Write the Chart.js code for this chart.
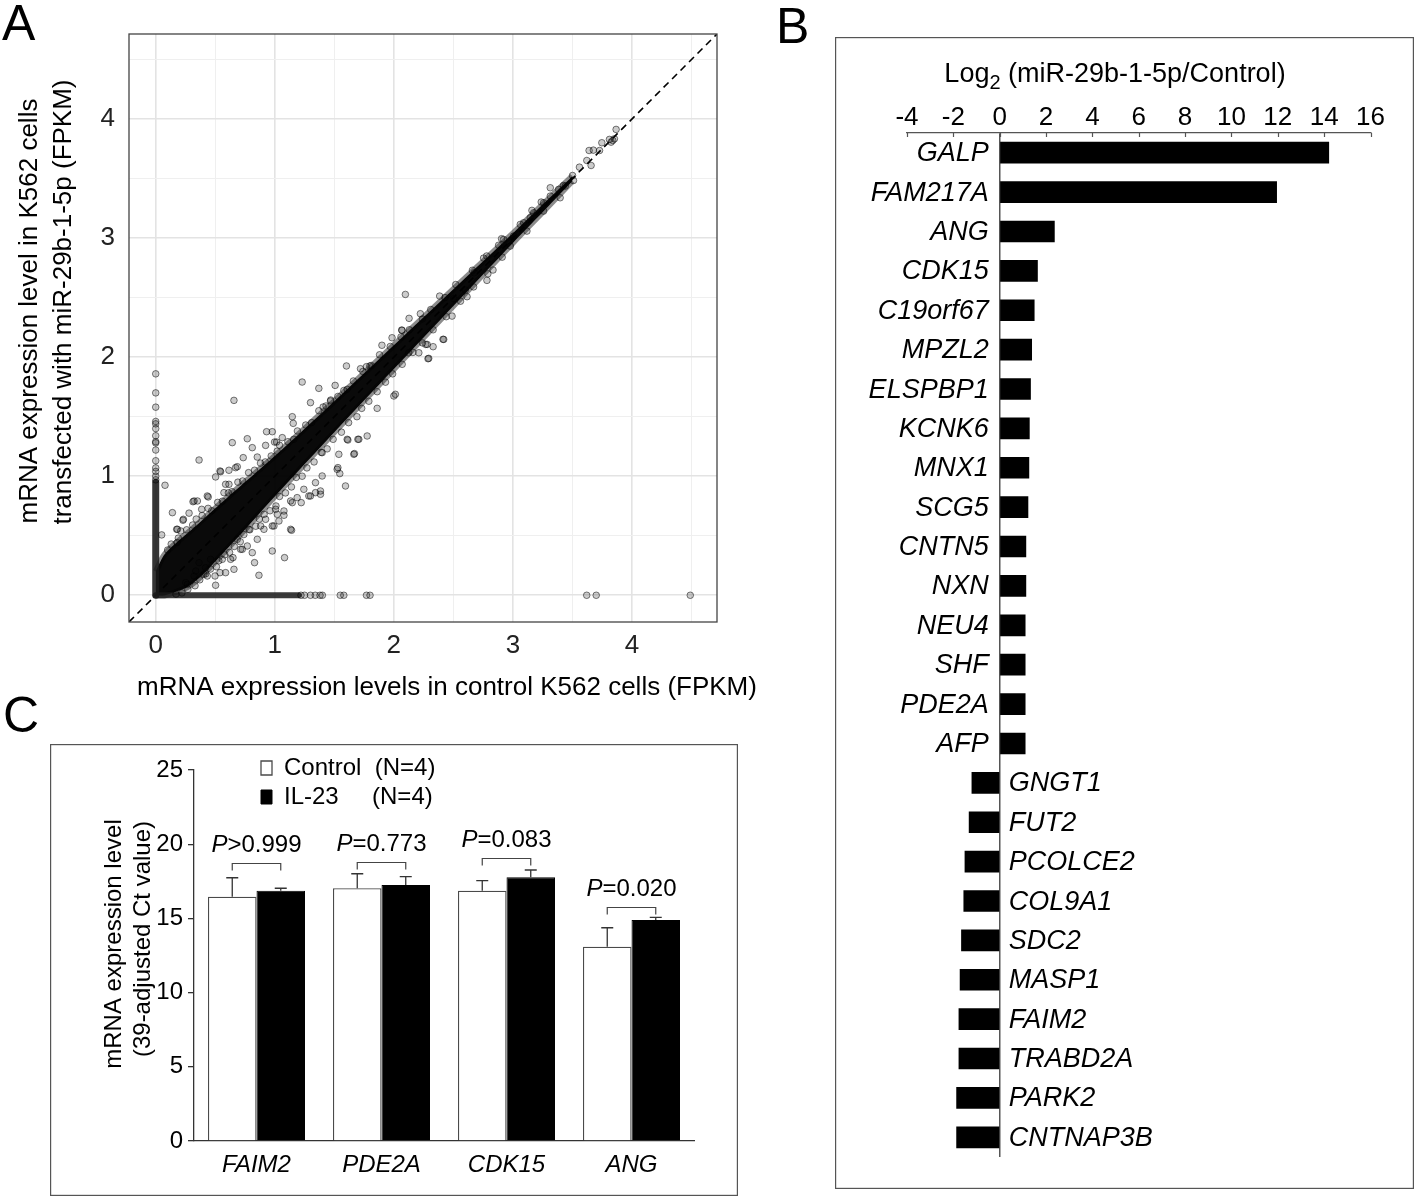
<!DOCTYPE html>
<html><head><meta charset="utf-8">
<script src="https://cdn.jsdelivr.net/npm/chart.js@4.4.1/dist/chart.umd.min.js"></script>
<style>
html,body{margin:0;padding:0;background:#fff;}
body{width:1418px;height:1197px;position:relative;overflow:hidden;font-family:"Liberation Sans",Arial,sans-serif;}
.wrap{position:absolute;}
.letter{position:absolute;font-size:50px;line-height:50px;color:#000;z-index:5;}
</style></head><body>
<div class="wrap" style="left:0;top:0;width:760px;height:720px"><canvas id="cA"></canvas></div>
<div class="wrap" style="left:835px;top:37px;width:579px;height:1152px"><canvas id="cB"></canvas></div>
<div class="wrap" style="left:50px;top:744px;width:688px;height:452px"><canvas id="cC"></canvas></div>
<div class="letter" style="left:2px;top:-2px">A</div>
<div class="letter" style="left:776px;top:1px">B</div>
<div class="letter" style="left:3px;top:690px">C</div>
<script>
// ---------------- Panel A data (FPKM, as plotted) ----------------
const gridTicksA = [0, 0.5, 1, 1.5, 2, 2.5, 3, 3.5, 4, 4.5];
// dense diagonal band (envelope of the solid black cloud)
const bandX     = [0,    0.08, 0.3,  0.6,  1.0,  1.5,  2.0,  2.5,  3.0,  3.3,  3.5];
const bandUpper = [0.20, 0.35, 0.55, 0.82, 1.17, 1.63, 2.10, 2.57, 3.04, 3.33, 3.52];
const bandLower = [0.0,  0.0,  0.09, 0.39, 0.83, 1.37, 1.90, 2.43, 2.96, 3.27, 3.48];
// genes with zero expression in one condition
const zeroCtrlRange  = [0, 0.95];
const zeroTreatRange = [0, 1.2];
const zeroCtrlY  = [0.97, 1.0, 1.04, 1.07, 1.13, 1.22, 1.28, 1.29, 1.34, 1.40, 1.44, 1.46, 1.58, 1.70, 1.86];
const zeroTreatX = [1.22, 1.25, 1.3, 1.34, 1.38, 1.40, 1.55, 1.58, 1.77, 1.80, 3.62, 3.70, 4.49];
// points at the edge of the dense band
const fringePoints = [
 [0.1,0.38],[0.13,0.43],[0.19,0.48],[0.21,0.54],[0.26,0.55],[0.31,0.59],[0.34,0.64],[0.39,0.67],[0.44,0.73],[0.47,0.71],
 [0.52,0.78],[0.56,0.79],[0.61,0.86],[0.64,0.87],[0.69,0.95],[0.73,0.96],[0.78,1.03],[0.83,1.05],[0.88,1.11],[0.92,1.12],
 [0.97,1.17],[1.02,1.21],[1.04,1.26],[1.11,1.29],[1.16,1.31],[1.19,1.38],[1.26,1.43],[1.31,1.45],[1.37,1.55],[1.43,1.59],
 [1.47,1.64],[1.53,1.67],[1.58,1.72],[1.66,1.8],[1.74,1.88],[1.81,1.93],[1.88,2.02],[1.97,2.09],[2.06,2.17],[2.13,2.23],
 [2.24,2.32],[2.31,2.4],[2.43,2.5],[2.52,2.61],[2.66,2.73],[2.78,2.85],[2.88,2.94],
 [0.17,0.01],[0.22,0.02],[0.27,0.05],[0.33,0.08],[0.37,0.13],[0.42,0.18],[0.46,0.22],[0.51,0.24],[0.53,0.29],[0.58,0.34],
 [0.62,0.36],[0.66,0.41],[0.71,0.45],[0.74,0.51],[0.79,0.55],[0.84,0.58],[0.87,0.64],[0.91,0.68],[0.96,0.71],[1.01,0.75],
 [1.04,0.83],[1.09,0.86],[1.14,0.91],[1.18,0.99],[1.23,1.0],[1.27,1.07],[1.33,1.12],[1.39,1.2],[1.44,1.23],[1.49,1.31],
 [1.56,1.37],[1.62,1.45],[1.69,1.5],[1.73,1.57],[1.79,1.63],[1.86,1.71],[1.93,1.79],[1.99,1.86],[2.07,1.94],[2.16,2.04],
 [2.24,2.12],[2.33,2.23],[2.44,2.34],[2.56,2.47],[2.67,2.59],[2.79,2.7],[2.91,2.84]
];
// scattered genes away from the band
const outlierPoints = [
 [0.657,1.637],[0.364,1.136],[0.078,0.924],[0.05,0.507],[0.14,0.694],[0.229,0.63],[0.28,0.69],[0.176,0.554],[0.313,0.786],
 [0.441,0.826],[0.503,0.994],[0.54,1.044],[0.615,1.05],[0.735,1.156],[0.769,1.315],[0.643,1.282],[0.931,1.374],[0.979,1.374],
 [0.998,1.287],[1.063,1.324],[0.923,1.259],[1.147,1.5],[1.23,1.791],[1.37,1.738],[1.507,1.763],[1.468,1.632],[1.602,1.926],
 [1.72,1.903],[1.798,1.926],[1.9,2.1],[0.853,1.161],[0.685,1.08],[0.615,0.932],[0.386,0.722],[0.35,0.792],[0.18,0.442],
 [0.867,0.168],[1.082,0.316],[0.979,0.372],[0.83,0.274],[0.657,0.218],[0.503,0.084],[0.433,0.162],[0.54,0.19],[0.629,0.302],
 [0.713,0.386],[0.769,0.414],[0.853,0.47],[0.909,0.554],[0.993,0.582],[1.141,0.546],[1.021,0.68],[1.077,0.708],[1.133,0.792],
 [1.188,0.82],[1.244,0.89],[1.3,0.834],[1.342,0.862],[1.398,1.002],[1.524,1.058],[1.594,0.918],[1.538,1.184],[1.608,1.31],
 [1.706,1.31],[1.776,1.338],[1.664,1.184],[1.86,1.57],[2.0,1.674],[2.013,1.688],[2.125,2.037],[2.21,2.037],[2.28,2.107],
 [2.287,1.987],[0.419,0.232],[0.364,0.274],[0.461,0.302],[0.559,0.302],[0.322,0.162],[0.266,0.092],
 [1.77,1.92],[2.097,2.527],[1.015,1.287],[1.698,1.31],[1.614,1.304],[1.669,1.19],[1.53,1.072],[1.546,1.022],[2.293,1.99],
 [2.33,2.088],[2.413,2.15],[2.268,2.107],[2.385,2.513],[2.069,2.225],[2.223,2.365],[1.155,1.444],[1.3,1.618],[1.406,1.581],
 [1.608,1.73],[2.128,2.326],[2.066,2.228],[1.985,2.163],[2.419,2.149],[2.489,2.345],[2.615,2.508],[2.782,2.645],[2.833,2.732],
 [2.754,2.832],[2.905,2.995],[2.978,2.933],[3.006,3.017],[3.118,3.059],[3.258,3.227],[3.238,3.303],[3.314,3.423],[3.397,3.339],
 [3.425,3.442],[3.509,3.484],[3.501,3.526],[3.559,3.596],[3.621,3.652],[3.64,3.736],[3.676,3.739],[3.657,3.61],[3.728,3.736],
 [3.747,3.801],[3.811,3.829],[3.825,3.806],[3.853,3.834],[3.867,3.913],[3.839,3.82],[3.174,3.213],[3.146,3.171],[3.062,3.115],
 [2.922,2.989],[2.676,2.709],[2.6,2.564],[2.503,2.491],[3.258,3.297],[3.314,3.353],[3.384,3.409],[3.44,3.437],[3.16,3.233],
 [3.09,3.129],[0.545,1.038],[0.182,0.554],[0.232,0.638],[0.322,0.792],[0.433,0.834],[0.573,0.862],[0.587,0.932],[0.671,1.072],
 [0.811,1.24],[0.498,0.162],[0.405,0.176],[0.587,0.19],[0.811,0.358],[0.649,0.316],[0.727,0.386],[0.336,0.204],[0.252,0.106],
 [1.133,0.554],[1.035,0.624],[1.147,0.778],[1.222,0.778],[1.286,0.834],[1.384,0.876],[1.384,0.848],[1.342,0.946],[1.398,1.198],
 [0.923,0.638],[0.881,0.582],[0.783,0.554],[0.685,0.47],[0.979,0.582],[1.077,0.672],[1.007,0.722]
];

// ---------------- Panel B data ----------------
const genesB = ['GALP','FAM217A','ANG','CDK15','C19orf67','MPZL2','ELSPBP1','KCNK6','MNX1','SCG5','CNTN5','NXN','NEU4','SHF','PDE2A','AFP',
                'GNGT1','FUT2','PCOLCE2','COL9A1','SDC2','MASP1','FAIM2','TRABD2A','PARK2','CNTNAP3B'];
const log2FC = [14.2, 11.95, 2.36, 1.63, 1.49, 1.38, 1.33, 1.28, 1.26, 1.22, 1.13, 1.13, 1.1, 1.1, 1.1, 1.1,
                -1.2, -1.32, -1.5, -1.55, -1.65, -1.71, -1.76, -1.76, -1.86, -1.86];
const ticksB = [-4, -2, 0, 2, 4, 6, 8, 10, 12, 14, 16];

// ---------------- Panel C data ----------------
const genesC = ['FAIM2', 'PDE2A', 'CDK15', 'ANG'];
const controlMean = [16.46, 17.03, 16.87, 13.09];
const controlSD   = [1.28, 0.98, 0.67, 1.28];
const il23Mean    = [16.87, 17.25, 17.77, 14.89];
const il23SD      = [0.16, 0.56, 0.49, 0.18];
const pLabels     = ['>0.999', '=0.773', '=0.083', '=0.020'];
const pBracketY   = [18.73, 18.8, 19.05, 15.75];
const ticksC = [0, 5, 10, 15, 20, 25];

// ---------------- helpers ----------------
const FF = "'Liberation Sans', Arial, Helvetica, sans-serif";
Chart.defaults.font.family = FF;
Chart.defaults.color = '#000';
const fixW = w => s => { s.width = w; };
const fixH = h => s => { s.height = h; };
function drawRich(ctx, segs, x, y, rot) {
  ctx.save(); ctx.translate(x, y); ctx.rotate(rot || 0);
  ctx.textBaseline = 'middle'; ctx.textAlign = 'left'; ctx.fillStyle = '#000';
  let total = 0;
  segs.forEach(s => { ctx.font = s.font; s.w = ctx.measureText(s.t).width; total += s.w; });
  let cx = -total / 2;
  segs.forEach(s => { ctx.font = s.font; ctx.fillText(s.t, cx, s.dy || 0); cx += s.w; });
  ctx.restore();
}
const f = (size, italic) => (italic ? 'italic ' : '') + size + 'px ' + FF;
const boxFrame = (color) => ({ id: 'boxFrame', afterDraw(chart) {
  const c = chart.ctx; c.save(); c.strokeStyle = color; c.lineWidth = 1.2;
  c.strokeRect(0.6, 0.6, chart.width - 1.2, chart.height - 1.2); c.restore(); } });

// ---------------- Panel A ----------------
const A_MIN = -0.2245, A_MAX = 4.7145;
const ptStyle = { pointRadius: 3.3, pointBackgroundColor: 'rgba(0,0,0,0.2)', pointBorderColor: 'rgba(0,0,0,0.5)', pointBorderWidth: 1, pointHoverRadius: 3.3 };
const isMajor = c => c.tick && Number.isInteger(c.tick.value);
new Chart(document.getElementById('cA'), {
  type: 'scatter',
  data: { datasets: [
    Object.assign({ type: 'scatter', label: 'genes (outliers)', data: outlierPoints.map(p => ({ x: p[0], y: p[1] })), order: 1 }, ptStyle),
    Object.assign({ type: 'scatter', label: 'genes (band edge)', data: fringePoints.map(p => ({ x: p[0], y: p[1] })), order: 2 }, ptStyle),
    Object.assign({ type: 'scatter', label: 'zero in control', data: zeroCtrlY.map(y => ({ x: 0, y })), order: 2 }, ptStyle),
    Object.assign({ type: 'scatter', label: 'zero in transfected', data: zeroTreatX.map(x => ({ x, y: 0 })), order: 2 }, ptStyle),
    { type: 'line', label: 'zero in control (dense)', data: zeroCtrlRange.map(y => ({ x: 0, y })), borderColor: 'rgba(25,25,25,0.88)', borderWidth: 7, borderCapStyle: 'round', pointRadius: 0, order: 3 },
    { type: 'line', label: 'zero in transfected (dense)', data: zeroTreatRange.map(x => ({ x, y: 0 })), borderColor: 'rgba(25,25,25,0.85)', borderWidth: 6, borderCapStyle: 'round', pointRadius: 0, order: 3 },
    { type: 'line', label: 'dense band upper', data: bandX.map((x, i) => ({ x, y: bandUpper[i] })), fill: '+1', backgroundColor: 'rgba(0,0,0,0.96)', borderColor: 'rgba(0,0,0,0.45)', borderWidth: 6, pointRadius: 0, tension: 0.3, order: 4 },
    { type: 'line', label: 'dense band lower', data: bandX.map((x, i) => ({ x, y: bandLower[i] })), fill: false, borderColor: 'rgba(0,0,0,0.45)', borderWidth: 6, pointRadius: 0, tension: 0.3, order: 4 },
    { type: 'line', label: 'y = x', data: [{ x: A_MIN, y: A_MIN }, { x: A_MAX, y: A_MAX }], borderColor: '#000', borderWidth: 1.6, borderDash: [7, 5], pointRadius: 0, order: 6 }
  ] },
  options: {
    responsive: true, maintainAspectRatio: false, animation: false, devicePixelRatio: 1,
    layout: { padding: { left: 0, top: 34, right: 43, bottom: 0 } },
    plugins: { legend: { display: false }, tooltip: { enabled: false } },
    scales: {
      x: { type: 'linear', min: A_MIN, max: A_MAX, afterBuildTicks: s => { s.ticks = gridTicksA.map(v => ({ value: v })); }, afterFit: fixH(98),
           ticks: { callback: v => Number.isInteger(v) ? String(v) : '', font: { size: 26 }, color: '#222', padding: 8, autoSkip: false, maxRotation: 0 },
           grid: { color: c => isMajor(c) ? '#e3e3e3' : '#efefef', lineWidth: c => isMajor(c) ? 1.6 : 1, drawTicks: false },
           border: { display: false } },
      y: { type: 'linear', min: A_MIN, max: A_MAX, afterBuildTicks: s => { s.ticks = gridTicksA.map(v => ({ value: v })); }, afterFit: fixW(129),
           ticks: { callback: v => Number.isInteger(v) ? String(v) : '', font: { size: 26 }, color: '#222', padding: 14, autoSkip: false },
           grid: { color: c => isMajor(c) ? '#e3e3e3' : '#efefef', lineWidth: c => isMajor(c) ? 1.6 : 1, drawTicks: false },
           border: { display: false } }
    }
  },
  plugins: [{ id: 'frameA', afterDraw(chart) {
      const c = chart.ctx, a = chart.chartArea; c.save(); c.strokeStyle = '#444'; c.lineWidth = 1.3;
      c.strokeRect(a.left, a.top, a.right - a.left, a.bottom - a.top); c.restore();
      drawRich(c, [{ t: 'mRNA expression levels in control K562 cells (FPKM)', font: f(26) }], 447, 688, 0);
      drawRich(c, [{ t: 'mRNA expression level in K562 cells', font: f(26) }], 30, 311, -Math.PI / 2);
      drawRich(c, [{ t: 'transfected with miR-29b-1-5p (FPKM)', font: f(26) }], 64, 302, -Math.PI / 2);
  } }]
});

// ---------------- Panel B ----------------
new Chart(document.getElementById('cB'), {
  type: 'bar',
  data: { labels: genesB, datasets: [{ label: 'Log2 (miR-29b-1-5p/Control)', data: log2FC, backgroundColor: '#000', borderWidth: 0, barThickness: 21 }] },
  options: {
    indexAxis: 'y', responsive: true, maintainAspectRatio: false, animation: false, devicePixelRatio: 1,
    layout: { padding: { left: 72, right: 43.5, top: 0, bottom: 32 } },
    plugins: { legend: { display: false }, tooltip: { enabled: false } },
    scales: {
      x: { position: 'top', min: -4, max: 16, afterBuildTicks: s => { s.ticks = ticksB.map(v => ({ value: v })); }, afterFit: fixH(96),
           ticks: { font: { size: 26 }, color: '#000', padding: 0, maxRotation: 0, autoSkip: false },
           grid: { drawTicks: false, color: c => (c.tick && c.tick.value === 0) ? '#555' : 'rgba(0,0,0,0)', lineWidth: 1.5 },
           border: { display: true, color: '#555', width: 1.2 } },
      y: { display: false, offset: true }
    }
  },
  plugins: [boxFrame('#555'), { id: 'geneLabels', afterDraw(chart) {
      const c = chart.ctx, xs = chart.scales.x, meta = chart.getDatasetMeta(0), x0 = xs.getPixelForValue(0), top = chart.chartArea.top;
      c.save(); c.strokeStyle = '#555'; c.lineWidth = 1.2;
      xs.ticks.forEach(t => { const px = Math.round(xs.getPixelForValue(t.value)) + 0.5; c.beginPath(); c.moveTo(px, top); c.lineTo(px, top + 4); c.stroke(); });
      c.font = f(27, true); c.fillStyle = '#000'; c.textBaseline = 'middle';
      meta.data.forEach((bar, i) => {
        const v = chart.data.datasets[0].data[i], lab = chart.data.labels[i];
        if (v >= 0) { c.textAlign = 'right'; c.fillText(lab, x0 - 11, bar.y + 1); }
        else { c.textAlign = 'left'; c.fillText(lab, x0 + 9, bar.y + 1); }
      });
      c.restore();
      drawRich(c, [{ t: 'Log', font: f(27) }, { t: '2', font: f(20), dy: 8 }, { t: ' (miR-29b-1-5p/Control)', font: f(27) }], 280, 38, 0);
  } }]
});

// ---------------- Panel C ----------------
new Chart(document.getElementById('cC'), {
  type: 'bar',
  data: { labels: genesC, datasets: [
    { label: 'Control  (N=4)', data: controlMean, backgroundColor: '#fff', borderColor: '#4a4a4a', borderWidth: 1.3, categoryPercentage: 0.776, barPercentage: 1.0 },
    { label: 'IL-23     (N=4)', data: il23Mean, backgroundColor: '#000', borderColor: '#000', borderWidth: 1, categoryPercentage: 0.776, barPercentage: 1.0 }
  ] },
  options: {
    responsive: true, maintainAspectRatio: false, animation: false, devicePixelRatio: 1,
    layout: { padding: { left: 0, top: 26, right: 44, bottom: 0 } },
    plugins: {
      legend: { display: true, position: 'chartArea', align: 'start', labels: { boxWidth: 11, boxHeight: 14, font: { size: 24 }, color: '#000', padding: 5 } },
      tooltip: { enabled: false }
    },
    scales: {
      x: { afterFit: fixH(55), ticks: { font: { size: 24, style: 'italic' }, color: '#000', padding: 10 },
           grid: { display: false, drawTicks: false }, border: { display: true, color: '#333', width: 1.3 } },
      y: { min: 0, max: 25, afterBuildTicks: s => { s.ticks = ticksC.map(v => ({ value: v })); }, afterFit: fixW(144),
           ticks: { font: { size: 24 }, color: '#000', padding: 5 },
           grid: { drawOnChartArea: false, drawTicks: true, tickLength: 6, color: '#333', lineWidth: 1.3 },
           border: { display: true, color: '#333', width: 1.3 } }
    }
  },
  plugins: [boxFrame('#555'), {
    id: 'legendPlace', afterLayout(chart) {
      const L = chart.legend; if (!L) return; const w = L.width, h = L.height;
      L.left = 206; L.right = 206 + w; L.top = 7; L.bottom = 7 + h;
    }
  }, {
    id: 'errorsAndP', afterDatasetsDraw(chart) {
      const c = chart.ctx, ys = chart.scales.y;
      const sds = [controlSD, il23SD];
      c.save(); c.strokeStyle = '#333'; c.lineWidth = 1.3;
      [0, 1].forEach(d => {
        const meta = chart.getDatasetMeta(d), vals = chart.data.datasets[d].data;
        meta.data.forEach((el, i) => {
          const yE = ys.getPixelForValue(vals[i] + sds[d][i]);
          c.beginPath(); c.moveTo(el.x, el.y); c.lineTo(el.x, yE); c.moveTo(el.x - 6, yE); c.lineTo(el.x + 6, yE); c.stroke();
        });
      });
      const m0 = chart.getDatasetMeta(0), m1 = chart.getDatasetMeta(1);
      c.strokeStyle = '#444'; c.lineWidth = 1.2;
      genesC.forEach((g, i) => {
        const x1 = m0.data[i].x, x2 = m1.data[i].x, yb = Math.round(ys.getPixelForValue(pBracketY[i])) + 0.5;
        c.beginPath(); c.moveTo(x1, yb + 7); c.lineTo(x1, yb); c.lineTo(x2, yb); c.lineTo(x2, yb + 7); c.stroke();
        drawRich(c, [{ t: 'P', font: f(24, true) }, { t: pLabels[i], font: f(24) }], (x1 + x2) / 2, yb - 18, 0);
      });
      c.restore();
      drawRich(c, [{ t: 'mRNA expression level', font: f(24) }], 64, 200, -Math.PI / 2);
      drawRich(c, [{ t: '(39-adjusted Ct value)', font: f(24) }], 93, 195, -Math.PI / 2);
    }
  }]
});
</script>
</body></html>
